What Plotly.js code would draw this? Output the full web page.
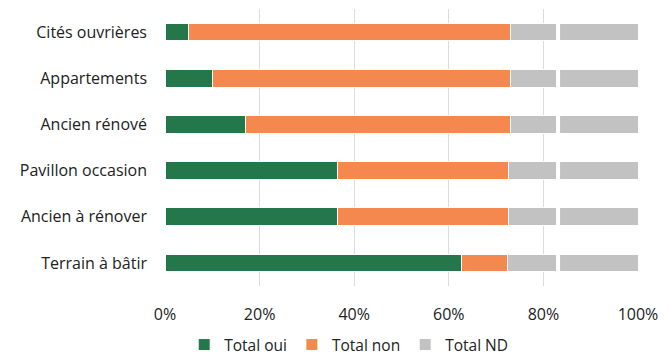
<!DOCTYPE html>
<html>
<head>
<meta charset="utf-8">
<script src="https://cdn.plot.ly/plotly-3.0.1.min.js"></script>
<style>html,body{margin:0;padding:0;background:#fff;}#chart{width:668px;height:362px;}</style>
</head>
<body>
<div id="chart"></div>
<script>
const categories = ["Cités ouvrières", "Appartements", "Ancien rénové", "Pavillon occasion", "Ancien à rénover", "Terrain à bâtir"];
const totalOui = [5, 10, 17, 36.4, 36.4, 62.7];
const totalNon = [68, 63, 56, 36.3, 36.3, 9.8];
const totalND  = [27, 27, 27, 27.3, 27.3, 27.5];
const xTicks = [0, 20, 40, 60, 80, 100];
const xTickText = xTicks.map(v => v + "%");

const line = {color: "#ffffff", width: 1};
const traces = [
  {type: "bar", orientation: "h", name: "Total oui", y: categories, x: totalOui, marker: {color: "#23774a", line: line}},
  {type: "bar", orientation: "h", name: "Total non", y: categories, x: totalNon, marker: {color: "#f4884f", line: line}},
  {type: "bar", orientation: "h", name: "Total ND", y: categories, x: totalND, marker: {color: "#c2c2c2", line: line}}
];

const layout = {
  width: 668, height: 362,
  margin: {l: 165, r: 30, t: 9, b: 76, autoexpand: false},
  paper_bgcolor: "#ffffff", plot_bgcolor: "#ffffff",
  barmode: "stack", bargap: 0.62,
  font: {family: "Open Sans, sans-serif", size: 16, color: "#222222"},
  showlegend: true,
  legend: {orientation: "h", x: 0.522, xanchor: "center", xref: "container", y: 0, yanchor: "bottom", yref: "container", traceorder: "normal", itemwidth: 30, font: {size: 15.5, color: "#222222"}},
  xaxis: {range: [0, 100], tickvals: xTicks, ticktext: xTickText, showgrid: true, gridcolor: "#dcdcdc", zeroline: false, showline: false, ticks: "", ticklabelstandoff: 17, automargin: false, fixedrange: true},
  yaxis: {autorange: "reversed", type: "category", showgrid: false, zeroline: false, showline: false, ticks: "", ticklabelstandoff: 17, automargin: false, fixedrange: true},
  shapes: [{type: "line", xref: "x", yref: "paper", x0: 83.1, x1: 83.1, y0: 0, y1: 1, line: {color: "#ffffff", width: 4}, layer: "above"}]
};

Plotly.newPlot("chart", traces, layout, {displayModeBar: false, staticPlot: true});
</script>
</body>
</html>
